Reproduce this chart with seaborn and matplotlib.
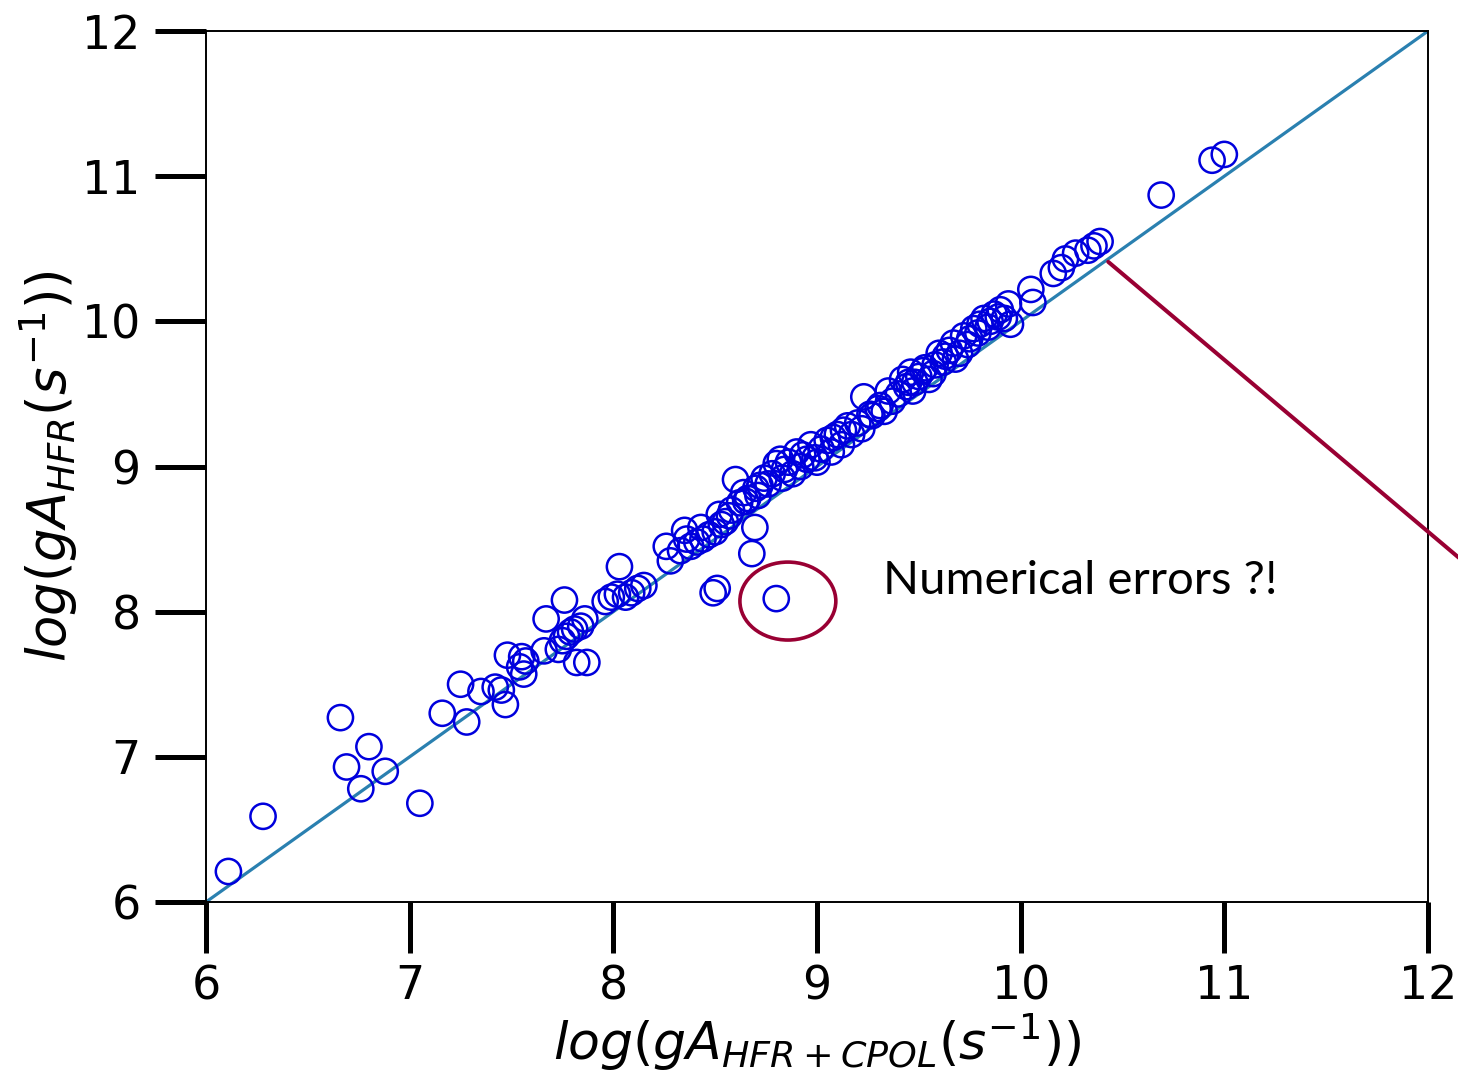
import numpy as np
import pandas as pd
import matplotlib
matplotlib.use("Agg")
import matplotlib.pyplot as plt
from matplotlib.patches import Ellipse
import seaborn as sns

# ---- data ----
x_vals = [6.11, 6.28, 6.66, 6.69, 6.76, 6.80, 6.88, 7.05, 7.16, 7.25,
          7.28, 7.35, 7.42, 7.45, 7.47, 7.48, 7.55, 7.54, 7.57, 7.56,
          7.66, 7.73, 7.67, 7.76, 7.82, 7.87, 7.79, 7.75, 7.77, 7.84,
          7.86, 7.81, 7.96, 7.99, 8.02, 8.03, 8.06, 8.09, 8.12, 8.15,
          8.26, 8.28, 8.33, 8.35, 8.38, 8.41, 8.44, 8.47, 8.50, 8.49,
          8.51, 8.52, 8.55, 8.58, 8.60, 8.62, 8.64, 8.66, 8.68, 8.695,
          8.70, 8.72, 8.74, 8.76, 8.80, 8.80, 8.82, 8.84, 8.86, 8.88,
          8.90, 8.92, 8.95, 8.97, 9.00, 9.02, 9.05, 9.07, 9.10, 9.12,
          9.15, 9.17, 9.20, 9.22, 9.23, 9.27, 9.30, 9.33, 9.35, 9.37,
          9.40, 9.42, 9.44, 9.46, 9.48, 9.50, 9.53, 9.55, 9.58, 9.60,
          9.62, 9.65, 9.67, 9.70, 9.72, 9.75, 9.77, 9.80, 9.82, 9.85,
          9.87, 9.90, 9.92, 9.94, 9.95, 10.05, 10.06, 10.16, 10.20, 10.22,
          10.27, 10.33, 10.36, 10.39, 10.69, 10.94, 11.00,
          8.65, 8.71, 8.78, 8.83, 8.93, 8.99, 9.08, 9.13, 9.26, 9.31,
          9.45, 9.47, 9.52, 9.57, 9.63, 9.68, 9.74, 9.79, 9.84, 9.89,
          8.36, 8.43, 8.53, 8.57]
y_vals = [6.21, 6.59, 7.27, 6.93, 6.78, 7.07, 6.90, 6.68, 7.30, 7.50,
          7.24, 7.45, 7.48, 7.46, 7.36, 7.70, 7.69, 7.62, 7.66, 7.57,
          7.73, 7.74, 7.95, 8.08, 7.65, 7.65, 7.86, 7.80, 7.83, 7.90,
          7.95, 7.88, 8.07, 8.10, 8.12, 8.31, 8.10, 8.13, 8.16, 8.18,
          8.45, 8.35, 8.42, 8.56, 8.45, 8.48, 8.50, 8.53, 8.55, 8.13,
          8.16, 8.67, 8.62, 8.70, 8.91, 8.75, 8.82, 8.78, 8.40, 8.58,
          8.85, 8.87, 8.92, 8.88, 8.09, 9.02, 9.05, 8.98, 9.03, 8.95,
          9.10, 9.00, 9.05, 9.15, 9.03, 9.12, 9.18, 9.10, 9.22, 9.15,
          9.28, 9.22, 9.30, 9.26, 9.48, 9.35, 9.40, 9.38, 9.52, 9.45,
          9.50, 9.60, 9.55, 9.65, 9.58, 9.62, 9.68, 9.60, 9.70, 9.78,
          9.72, 9.80, 9.85, 9.78, 9.90, 9.88, 9.95, 9.98, 10.02, 10.00,
          10.05, 10.08, 10.02, 10.12, 9.98, 10.22, 10.13, 10.33, 10.37, 10.43,
          10.47, 10.49, 10.52, 10.55, 10.87, 11.11, 11.15,
          8.76, 8.80, 8.95, 8.92, 9.08, 9.06, 9.20, 9.25, 9.36, 9.42,
          9.58, 9.52, 9.66, 9.64, 9.76, 9.74, 9.84, 9.92, 9.96, 10.03,
          8.50, 8.58, 8.60, 8.66]
diag_x = [6, 12]
diag_y = [6, 12]
x_ticks = [6, 7, 8, 9, 10, 11, 12]
y_ticks = [6, 7, 8, 9, 10, 11, 12]
x_label = r'$log(gA_{HFR+CPOL}(s^{-1}))$'
y_label = r'$log(gA_{HFR}(s^{-1}))$'
note_text = "Numerical errors ?!"

df = pd.DataFrame({"x": x_vals, "y": y_vals})
diag = pd.DataFrame({"x": diag_x, "y": diag_y})

sns.set_style("ticks")
plt.rcParams['font.family'] = ['DejaVu Sans']
plt.rcParams['mathtext.fontset'] = 'dejavusans'
for k in ['text.color', 'axes.labelcolor', 'xtick.color', 'ytick.color',
          'xtick.labelcolor', 'ytick.labelcolor']:
    plt.rcParams[k] = 'black'

fig = plt.figure(figsize=(14.58, 10.78), dpi=100)
ax = fig.add_axes([0.1413, 0.1633, 0.8381, 0.8079])

sns.lineplot(data=diag, x="x", y="y", ax=ax, color="#2a80b0", linewidth=2.3,
             zorder=1)
sns.scatterplot(data=df, x="x", y="y", ax=ax, marker="o", s=330,
                facecolor="none", edgecolor="#0000dd", linewidth=1.8,
                zorder=2)

ax.set_xlim(6, 12)
ax.set_ylim(6, 12)
ax.set_xticks(x_ticks)
ax.set_yticks(y_ticks)
ax.tick_params(axis="both", direction="out", length=37, width=3.6,
               labelsize=33, color="black", labelcolor="black")
ax.tick_params(axis="y", pad=10)
ax.tick_params(axis="x", pad=8)
for sp in ax.spines.values():
    sp.set_linewidth(1.4)
    sp.set_color("black")
ax.set_xlabel(x_label, fontsize=37.5, labelpad=2, color="black")
ax.set_ylabel(y_label, fontsize=38, labelpad=2, color="black")

# annotation: red pointer line, ellipse and text
ax.plot([10.43, 12.3], [10.41, 8.196], color="#990033", linewidth=2.9,
        clip_on=False, zorder=3)
ell = Ellipse((8.857, 8.073), width=0.471, height=0.537, fill=False,
              edgecolor="#990033", linewidth=2.6, zorder=3)
ax.add_patch(ell)
ax.text(9.325, 8.122, note_text, fontsize=34, family=["Lato", "DejaVu Sans"],
        color="black", ha="left", va="baseline")

fig.savefig("out.png", dpi=100)
